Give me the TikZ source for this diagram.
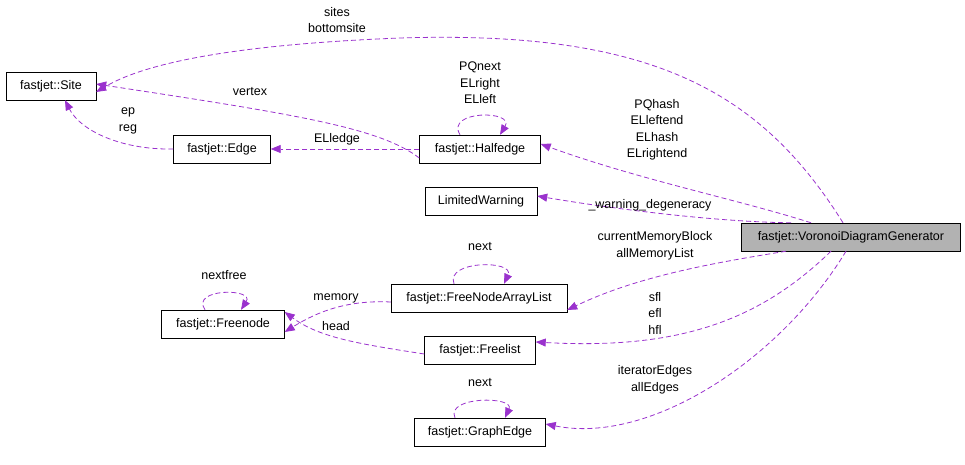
\documentclass[tikz,border=0pt]{standalone}
\usepackage{fontspec}
\setmainfont{Liberation Sans}
\usetikzlibrary{positioning,arrows.meta}
\definecolor{dxpurple}{HTML}{9A32CD}

\begin{document}
\begin{tikzpicture}[x=1pt,y=-1pt,
    cls/.style={rectangle,draw,fill=white,minimum height=28pt,inner xsep=4pt,
		font=\fontsize{12.5}{14}\selectfont},
    main/.style={cls,fill=black!30},
    use/.style={draw=dxpurple,line width=0.8pt,dash pattern=on 5pt off 3pt,
		-{Triangle[fill=dxpurple,length=10pt,width=8pt]}},
% label style
    lbl/.style={font=\fontsize{12.5}{16.5}\selectfont,align=center,inner sep=0pt}
    ]
   \useasboundingbox (0,0) rectangle (965,465);
%%% classes
   \node [cls,minimum width=90pt] (site) at (51,86) {fastjet::Site};
   \node [cls,minimum width=97pt] (edge) at (222,149) {fastjet::Edge};
   \node [cls,minimum width=121pt] (half) at (480,149) {fastjet::Halfedge};
   \node [cls,minimum width=112pt] (warn) at (481,201) {LimitedWarning};
   \node [main,minimum width=219pt] (vdg) at (851,237) {fastjet::VoronoiDiagramGenerator};
   \node [cls,minimum width=176pt] (fnal) at (479,298) {fastjet::FreeNodeArrayList};
   \node [cls,minimum width=123pt] (fnode) at (223,324) {fastjet::Freenode};
   \node [cls,minimum width=111pt] (flist) at (480,350) {fastjet::Freelist};
   \node [cls,minimum width=131pt] (gedge) at (480,432) {fastjet::GraphEdge};

%%% connectors
   \draw [use] ([xshift=-8pt]vdg.north) .. controls (760,90) and (650,30) .. (400,38)
        .. controls (250,44) and (150,60) .. ([yshift=-6pt]site.east);
   \draw [use] ([yshift=-9pt]half.west) .. controls (380,128) and (300,115) .. ([yshift=2pt]site.east);
   \draw [use] (edge.west) .. controls (120,150) and (80,130) .. ([xshift=14pt]site.south);
   \draw [use] (half.west) -- (edge.east);
   \draw [use] ([xshift=-20pt]half.north) .. controls (445,110) and (515,110) .. ([xshift=20pt]half.north);
   \draw [use] ([xshift=-40pt]vdg.north) .. controls (740,200) and (640,180) .. ([yshift=5pt]half.east);
   \draw [use] ([xshift=-60pt]vdg.north) .. controls (720,222) and (620,210) .. ([yshift=5pt]warn.east);
   \draw [use] ([xshift=-65pt]vdg.south) .. controls (720,262) and (640,275) .. ([yshift=-12pt]fnal.east);
   \draw [use] ([xshift=-25pt]fnal.north) .. controls (445,260) and (515,260) .. ([xshift=25pt]fnal.north);
   \draw [use] ([yshift=-4pt]fnal.west) .. controls (350,300) and (320,310) .. ([yshift=-8pt]fnode.east);
   \draw [use] ([xshift=-18pt]fnode.north) .. controls (190,288) and (255,288) .. ([xshift=18pt]fnode.north);
   \draw [use] ([yshift=-4pt]flist.west) .. controls (360,344) and (320,338) .. ([yshift=12pt]fnode.east);
   \draw [use] ([xshift=-20pt]vdg.south) .. controls (760,320) and (680,350) .. ([yshift=8pt]flist.east);
   \draw [use] ([xshift=-5pt]vdg.south) .. controls (780,360) and (650,445) .. ([yshift=8pt]gedge.east);
   \draw [use] ([xshift=-25pt]gedge.north) .. controls (445,396) and (515,396) .. ([xshift=25pt]gedge.north);

%%% labels
   \node [lbl] (lsites) at (337,20) {sites\\bottomsite};
   \node [lbl] (lvertex) at (250,92) {vertex};
   \node [lbl] (lep) at (128,121) {ep\\reg};
   \node [lbl] (lelledge) at (337,139) {ELledge};
   \node [lbl] (lhalfself) at (480,83) {PQnext\\ELright\\ELleft};
   \node [lbl] (lpqhash) at (657,130) {PQhash\\ELleftend\\ELhash\\ELrightend};
   \node [lbl] (lwarn) at (650,205) {\_warning\_degeneracy};
   \node [lbl] (lmem) at (655,246) {currentMemoryBlock\\allMemoryList};
   \node [lbl] (lnext) at (480,247) {next};
   \node [lbl] (lmemory) at (336,298) {memory};
   \node [lbl] (lnextfree) at (224,275) {nextfree};
   \node [lbl] (lhead) at (336,326) {head};
   \node [lbl] (lsfl) at (655,313) {sfl\\efl\\hfl};
   \node [lbl] (liter) at (655,380) {iteratorEdges\\allEdges};
   \node [lbl] (lgnext) at (480,383) {next};
\end{tikzpicture}
\end{document}
